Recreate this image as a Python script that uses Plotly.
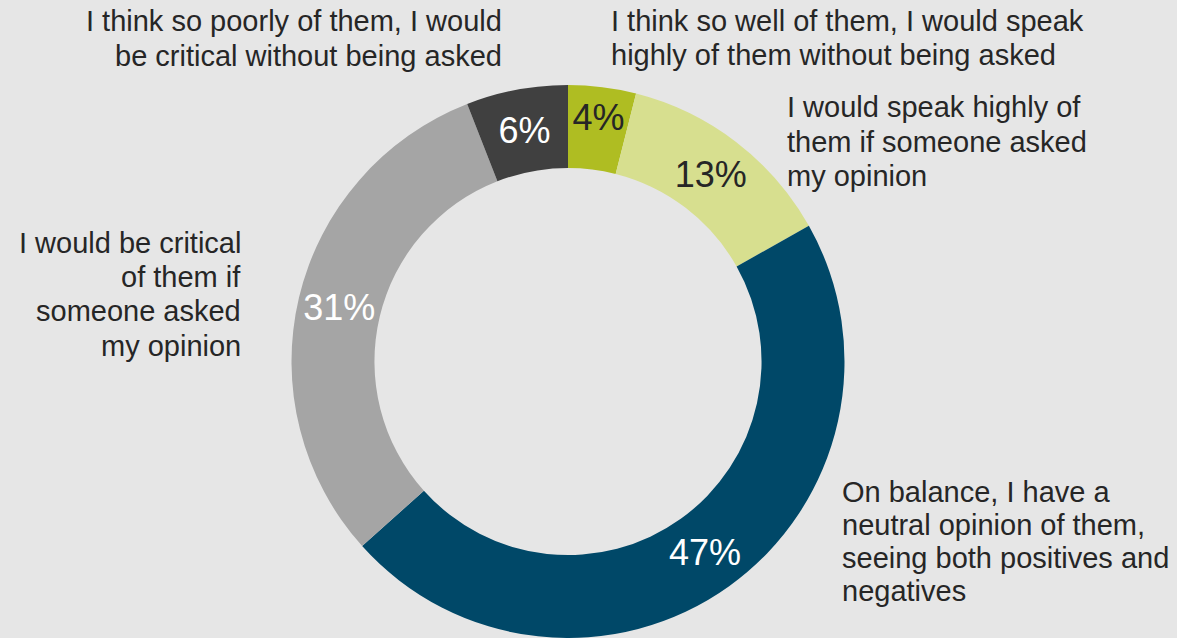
import plotly.graph_objects as go

categories = [
    "I think so well of them, I would speak<br>highly of them without being asked",
    "I would speak highly of<br>them if someone asked<br>my opinion",
    "On balance, I have a<br>neutral opinion of them,<br>seeing both positives and<br>negatives",
    "I would be critical<br>of them if<br>someone asked<br>my opinion",
    "I think so poorly of them, I would<br>be critical without being asked",
]
values = [4, 13, 47, 31, 6]
pct_labels = ["4%", "13%", "47%", "31%", "6%"]

colors = ["#afbd22", "#d7df8f", "#004868", "#a5a5a5", "#404040"]
text_colors = ["#262626", "#262626", "#ffffff", "#ffffff", "#ffffff"]

W, H = 1177, 638
FONT = "Liberation Sans, Arial, sans-serif"
LABEL_SIZE = 29

fig = go.Figure(go.Pie(
    labels=categories,
    values=values,
    text=pct_labels,
    textinfo="text",
    textposition="inside",
    insidetextorientation="horizontal",
    hole=0.70,
    sort=False,
    direction="clockwise",
    rotation=0,
    marker=dict(colors=colors, line=dict(width=0)),
    insidetextfont=dict(family=FONT, size=36, color=text_colors),
    domain=dict(x=[291 / W, 845 / W], y=[0, 553 / H]),
    showlegend=False,
    hoverinfo="label+text",
))

# outside label placement: (x edge px, first baseline px, line spacing px, align)
label_pos = [
    (610, 29.5, 34.5, "left"),
    (786, 115.7, 34.7, "left"),
    (841, 501, 32.8, "left"),
    (242, 251.7, 34.2, "right"),
    (503, 29.5, 35.0, "right"),
]
for lab, (px, base, step, al) in zip(categories, label_pos):
    for i, line in enumerate(lab.split("<br>")):
        b = base + i * step
        top = b - 0.99 * LABEL_SIZE + 3
        fig.add_annotation(
            x=px / W, y=1 - top / H, xref="paper", yref="paper",
            text=line, showarrow=False, align=al,
            xanchor=al, yanchor="top", borderpad=0,
            font=dict(family=FONT, size=LABEL_SIZE, color="#262626"),
        )

fig.update_layout(
    width=W, height=H,
    margin=dict(l=0, r=0, t=0, b=0),
    paper_bgcolor="#e6e6e6",
    plot_bgcolor="#e6e6e6",
    uniformtext=dict(minsize=36, mode="show"),
)

fig.write_html("out.html")
